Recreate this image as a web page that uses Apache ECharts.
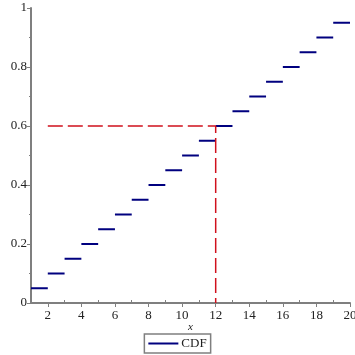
<!DOCTYPE html>
<html><head><meta charset="utf-8">
<script src="https://cdn.jsdelivr.net/npm/echarts@6/dist/echarts.min.js"></script>
<style>html,body{margin:0;padding:0;background:#fff}#c{width:355px;height:355px}</style>
</head><body><div id="c"></div>
<script>
// CDF step levels: segment k runs from stepStart[k] to stepEnd[k] at value cdfValues[k]
const stepStart = [1,2,3,4,5,6,7,8,9,10,11,12,13,14,15,16,17,18,19];
const stepEnd   = [2,3,4,5,6,7,8,9,10,11,12,13,14,15,16,17,18,19,20];
const cdfValues = [0.05,0.10,0.15,0.20,0.25,0.30,0.35,0.40,0.45,0.50,0.55,0.60,0.65,0.70,0.75,0.80,0.85,0.90,0.95];
// red guide lines
const guideX = [2, 12, 12];
const guideY = [0.6, 0.6, 0];
const xMajorTicks = [2,4,6,8,10,12,14,16,18,20];
const xMinorTicks = [3,5,7,9,11,13,15,17,19];
const yMajorTicks = [0,0.2,0.4,0.6,0.8,1];
const yMinorTicks = [0.1,0.3,0.5,0.7,0.9];

const stepData = [];
for (let i = 0; i < cdfValues.length; i++) {
  stepData.push([stepStart[i], cdfValues[i]]);
  stepData.push([stepEnd[i], cdfValues[i]]);
  stepData.push([stepEnd[i], '-']);
}
const guideData = guideX.map((x, i) => [x, guideY[i]]);

const font = 'Liberation Serif';
const axisCol = '#7f7f7f';
const chart = echarts.init(document.getElementById('c'));
chart.setOption({
  animation: false,
  grid: {left: 31, right: 5, top: 8, bottom: 52, containLabel: false, outerBoundsMode: 'none'},
  xAxis: [{
    type: 'value', min: 1, max: 20,
    name: 'x', nameLocation: 'middle', nameGap: 19, nameMoveOverlap: false,
    nameTextStyle: {fontFamily: font, fontStyle: 'italic', fontSize: 11, color: '#222'},
    axisLine: {show: true, onZero: false, lineStyle: {color: axisCol, width: 2}},
    axisTick: {show: true, customValues: xMajorTicks, length: 4, lineStyle: {color: axisCol, width: 1}},
    axisLabel: {customValues: xMajorTicks, fontFamily: font, fontSize: 13, color: '#222', margin: 6, showMinLabel: true, showMaxLabel: true, hideOverlap: false},
    splitLine: {show: false}
  }, {
    type: 'value', min: 1, max: 20, position: 'bottom',
    axisLine: {show: false},
    axisTick: {show: true, inside: true, customValues: xMinorTicks, length: 3, lineStyle: {color: axisCol, width: 1}},
    axisLabel: {show: false},
    splitLine: {show: false}
  }],
  yAxis: [{
    type: 'value', min: 0, max: 1, interval: 0.2,
    axisLine: {show: true, onZero: false, lineStyle: {color: axisCol, width: 2}},
    axisTick: {show: true, customValues: yMajorTicks, length: 4, lineStyle: {color: axisCol, width: 1}},
    axisLabel: {customValues: yMajorTicks, fontFamily: font, fontSize: 13, color: '#222', margin: 4,
      formatter: v => String(+v.toFixed(2))},
    splitLine: {show: false}
  }, {
    type: 'value', min: 0, max: 1, position: 'left',
    axisLine: {show: false},
    axisTick: {show: true, customValues: yMinorTicks, length: 2, lineStyle: {color: axisCol, width: 1}},
    axisLabel: {show: false},
    splitLine: {show: false}
  }],
  legend: {
    data: [{name: 'CDF', icon: 'rect'}], bottom: 2, left: 'center',
    borderColor: '#7f7f7f', borderWidth: 1.5, borderRadius: 0,
    padding: [3, 4, 3, 4],
    itemWidth: 30, itemHeight: 2, itemGap: 4,
    itemStyle: {color: '#00007f'},
    textStyle: {fontFamily: font, fontSize: 13, color: '#222', padding: [0, 0, 0, -2]}
  },
  series: [{
    name: 'CDF', type: 'line', data: stepData, showSymbol: false, symbol: 'none',
    connectNulls: false,
    lineStyle: {color: '#00007f', width: 2}, itemStyle: {color: '#00007f'}
  }, {
    name: 'guide', type: 'line', data: guideData, showSymbol: false, symbol: 'none',
    lineStyle: {color: '#d0101c', width: 1.5, type: [15, 5]}, itemStyle: {color: '#d0101c'}
  }]
});
</script></body></html>
